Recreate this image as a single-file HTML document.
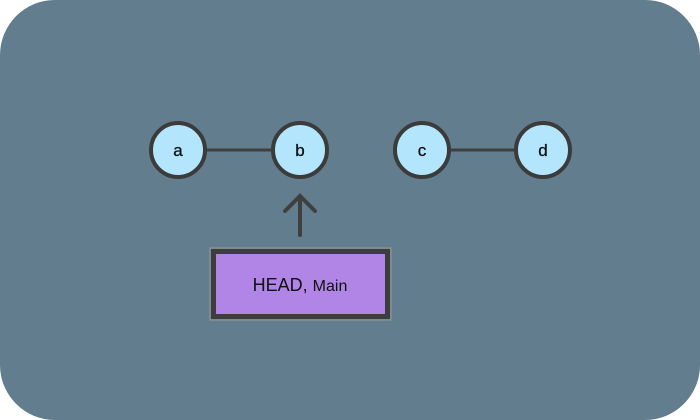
<!DOCTYPE html>
<html><head><style>
html,body{margin:0;padding:0;background:#fff;width:700px;height:420px;overflow:hidden}
</style></head><body>
<svg width="700" height="420" viewBox="0 0 700 420" xmlns="http://www.w3.org/2000/svg">
<rect x="0" y="0" width="700" height="420" rx="55" ry="55" fill="#627d8d"/>
<g stroke="#3f3f3f" stroke-width="3">
<line x1="205" y1="150" x2="273" y2="150"/>
<line x1="449" y1="150" x2="516" y2="150"/>
</g>
<g fill="#b3e5fc" stroke="#3b3b3b" stroke-width="4">
<circle cx="178" cy="150" r="27"/>
<circle cx="300" cy="150" r="27"/>
<circle cx="422" cy="150" r="27"/>
<circle cx="543" cy="150" r="27"/>
</g>
<g font-family="Liberation Sans, sans-serif" font-size="17" text-anchor="middle" fill="#111" stroke="#111" stroke-width="0.3">
<text x="178" y="156">a</text>
<text x="300" y="156">b</text>
<text x="422" y="156">c</text>
<text x="543" y="156">d</text>
</g>
<g stroke="#3f3f3f" stroke-width="4" fill="none" stroke-linecap="round">
<line x1="300" y1="198" x2="300" y2="235"/>
<polyline points="285,211 300,196 315,211"/>
</g>
<rect x="210" y="248" width="181" height="72" fill="none" stroke="#999" stroke-width="1"/>
<rect x="213.5" y="251.5" width="174" height="65" fill="#b085e6" stroke="#3d3d3d" stroke-width="5"/>
<text x="300" y="291" font-family="Liberation Sans, sans-serif" font-size="18" text-anchor="middle" fill="#111">HEAD, <tspan font-size="16">Main</tspan></text>
</svg>
</body></html>
